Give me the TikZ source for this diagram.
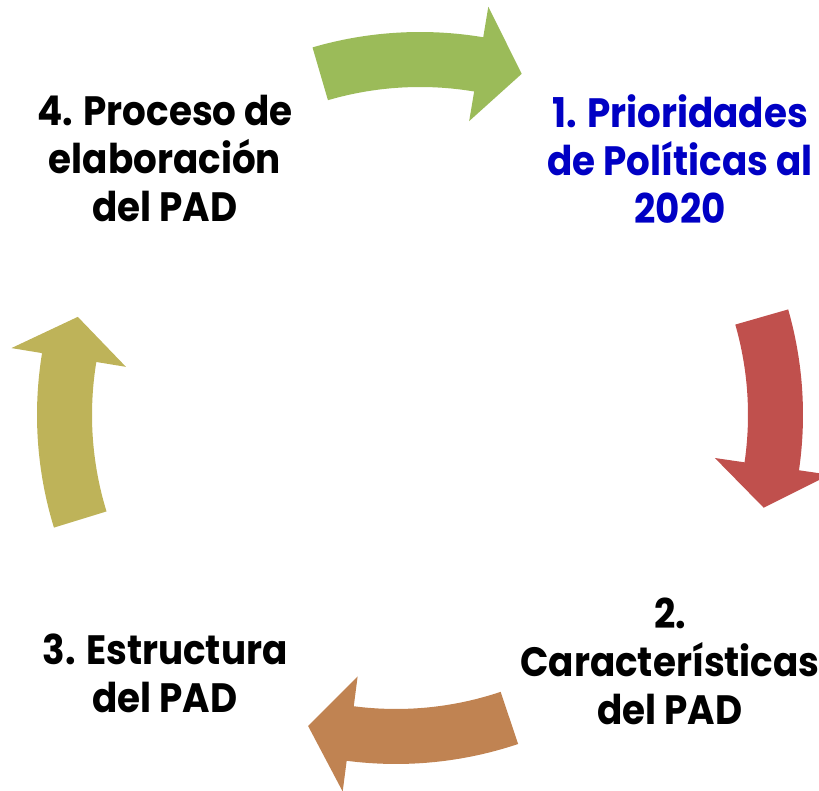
\documentclass[tikz,border=0pt]{standalone}
\usepackage{fontspec}
\setmainfont{Poppins}[FakeStretch=0.91]
\usetikzlibrary{calc}
\definecolor{cycgreen}{RGB}{155,187,89}
\definecolor{cycred}{RGB}{192,80,77}
\definecolor{cycbrown}{RGB}{192,131,82}
\definecolor{cycolive}{RGB}{190,179,89}
\definecolor{cycblue}{RGB}{0,0,196}
\def\rin{328pt}
\def\rout{383pt}
\def\rmid{356pt}
\def\rbin{298pt}
\def\rbout{414pt}
% block arc arrow: centre, tail angle, shoulder angle, tip angle, colour
\newcommand{\cycarrow}[5]{%
  \fill[#5] ($(#1)+(#2:\rout)$) arc[start angle=#2, end angle=#3, radius=\rout]
    -- ($(#1)+(#3:\rbout)$) -- ($(#1)+(#4:\rmid)$) -- ($(#1)+(#3:\rbin)$)
    -- ($(#1)+(#3:\rin)$) arc[start angle=#3, end angle=#2, radius=\rin] -- cycle;}

\begin{document}
\begin{tikzpicture}[x=1pt,y=1pt]
    \tikzstyle{stage}=[align=center, inner sep=0pt, font=\fontsize{41}{48}\selectfont\bfseries]
    \useasboundingbox (0,0) rectangle (819,791);

    \coordinate (ctr) at (420,376);
    \coordinate (ctrb) at (396,410);

    % Draw the stages
    \node[stage, text=cycblue] (s1) at (680,632) {1. Prioridades\\de Políticas al\\2020};
    \node[stage] (s2) at (670,130) {2.\\Características\\del PAD};
    \node[stage] (s3) at (165,118) {3. Estructura\\del PAD};
    \node[stage] (s4) at (165,632) {4. Proceso de\\elaboración\\del PAD};

    % Draw the arrows of the cycle
    \foreach \c/\a/\b/\t/\col in {ctr/106.3/80.5/73.4/cycgreen, ctr/16/-8.3/-15.1/cycred,
                                  ctrb/-71.4/-97.4/-104.3/cycbrown, ctr/197.1/170.7/164/cycolive}
    {
        \cycarrow{\c}{\a}{\b}{\t}{\col}
    }
\end{tikzpicture}
\end{document}
